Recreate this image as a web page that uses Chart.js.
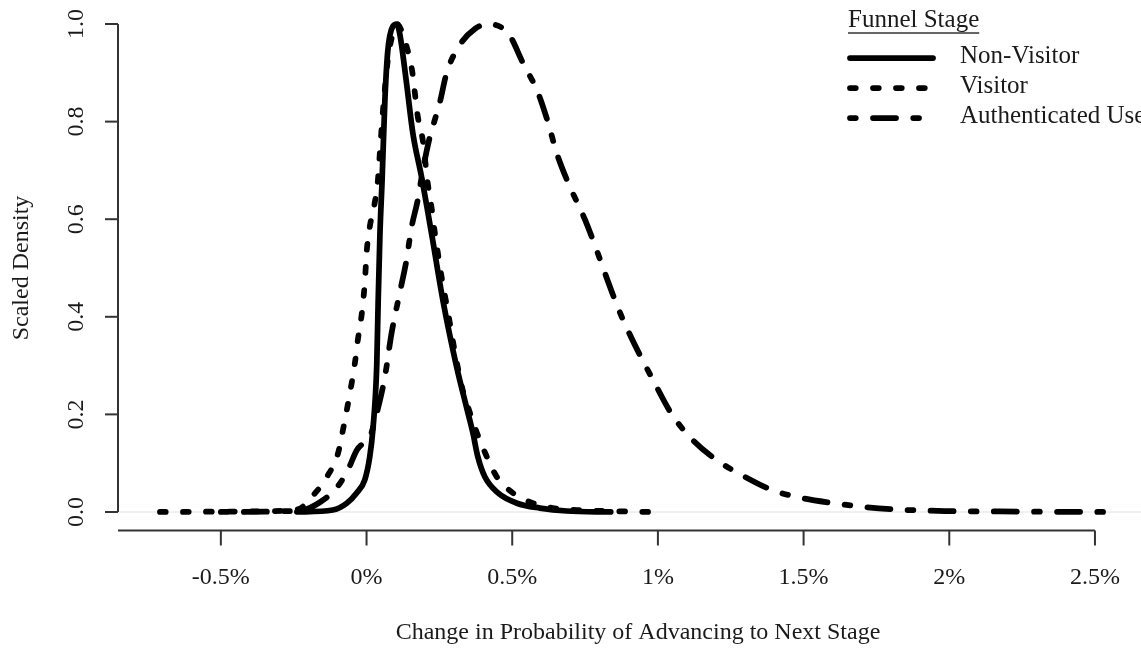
<!DOCTYPE html>
<html>
<head>
<meta charset="utf-8">
<script src="https://cdn.jsdelivr.net/npm/chart.js@4/dist/chart.umd.min.js"></script>
<style>
  html, body { margin: 0; padding: 0; background: #fff; }
  #wrap { width: 1141px; height: 648px; }
</style>
</head>
<body>
<div id="wrap"><canvas id="dens" width="1141" height="648"></canvas></div>
<script>
// scaled density curves, x in percentage points
var nonVisitorX = [-0.239, -0.116, -0.068, -0.034, -0.006, 0.011, 0.022, 0.035, 0.040, 0.046, 0.053, 0.063, 0.073, 0.090, 0.104,
  0.114, 0.137, 0.159, 0.189, 0.223, 0.262, 0.309, 0.343, 0.365, 0.382, 0.406, 0.451, 0.516, 0.595, 0.687, 0.838];
var nonVisitorY = [0.0, 0.004, 0.018, 0.039, 0.066, 0.113, 0.17, 0.30, 0.434, 0.57, 0.674, 0.844, 0.945, 0.995, 1.0,
  0.98, 0.88, 0.776, 0.686, 0.571, 0.434, 0.298, 0.215, 0.162, 0.113, 0.072, 0.039, 0.018, 0.008, 0.002, 0.0];

var visitorX = [-0.709, -0.40, -0.239, -0.176, -0.136, -0.098, -0.081, -0.057, -0.040, -0.030, -0.016, -0.006, 0.001, 0.011, 0.028,
  0.039, 0.045, 0.056, 0.063, 0.073, 0.087, 0.104, 0.121, 0.138, 0.156, 0.176, 0.193, 0.210, 0.224, 0.234, 0.245, 0.258,
  0.272, 0.286, 0.300, 0.313, 0.330, 0.355, 0.379, 0.413, 0.447, 0.502, 0.571, 0.639, 0.722, 0.972];
var visitorY = [0.0, 0.001, 0.005, 0.039, 0.072, 0.12, 0.168, 0.244, 0.305, 0.352, 0.408, 0.47, 0.537, 0.584, 0.633,
  0.68, 0.73, 0.82, 0.868, 0.926, 0.973, 1.0, 0.985, 0.953, 0.906, 0.81, 0.762, 0.674, 0.62, 0.574, 0.53, 0.48,
  0.434, 0.387, 0.338, 0.297, 0.25, 0.203, 0.162, 0.113, 0.072, 0.039, 0.018, 0.008, 0.004, 0.0];

var authUserX = [-0.50, -0.228, -0.160, -0.102, -0.064, -0.033, -0.013, 0.011, 0.034, 0.063, 0.086, 0.114, 0.137, 0.154, 0.176,
  0.193, 0.217, 0.234, 0.251, 0.275, 0.320, 0.372, 0.416, 0.457, 0.488, 0.537, 0.588, 0.622, 0.653, 0.691, 0.749, 0.876,
  0.996, 1.048, 1.120, 1.203, 1.299, 1.392, 1.498, 1.604, 1.710, 1.820, 1.985, 2.173, 2.585];
var authUserY = [0.0, 0.003, 0.02, 0.05, 0.086, 0.127, 0.14, 0.153, 0.2, 0.277, 0.367, 0.449, 0.516, 0.582, 0.64,
  0.70, 0.768, 0.803, 0.838, 0.90, 0.957, 0.99, 1.0, 0.995, 0.98, 0.92, 0.86, 0.80, 0.735, 0.676, 0.6, 0.4,
  0.256, 0.2, 0.147, 0.106, 0.072, 0.045, 0.028, 0.018, 0.01, 0.005, 0.002, 0.001, 0.0];

var stageLabels = ['Non-Visitor', 'Visitor', 'Authenticated User'];
var xTicks = [-0.5, 0, 0.5, 1, 1.5, 2, 2.5];
var yTicks = [0, 0.2, 0.4, 0.6, 0.8, 1.0];

var SERIF = '"Liberation Serif", "Times New Roman", serif';
var LW = 5.75;
var dashes = [[], [LW, LW * 3], [LW, LW * 3, LW * 4, LW * 3]];

function pts(xs, ys) {
  var out = [];
  for (var i = 0; i < xs.length; i++) out.push({x: xs[i], y: ys[i]});
  return out;
}

function series(label, xs, ys, dash) {
  return {
    label: label,
    data: pts(xs, ys),
    borderColor: '#000',
    borderWidth: LW,
    borderDash: dash,
    borderCapStyle: 'round',
    borderJoinStyle: 'round',
    pointRadius: 0,
    fill: false,
    cubicInterpolationMode: 'monotone'
  };
}

// R style axes, titles and legend drawn straight on the canvas
var baseAxes = {
  id: 'baseAxes',
  beforeDatasetsDraw: function(chart) {
    var c = chart.ctx, a = chart.chartArea, y0 = chart.scales.y.getPixelForValue(0);
    c.save();
    c.strokeStyle = '#ebebeb'; c.lineWidth = 1.5;
    c.beginPath(); c.moveTo(a.left, y0); c.lineTo(a.right, y0); c.stroke();
    c.restore();
  },
  afterDraw: function(chart) {
    var c = chart.ctx, a = chart.chartArea, sx = chart.scales.x, sy = chart.scales.y;
    c.save();
    c.strokeStyle = '#333'; c.fillStyle = '#1a1a1a'; c.lineWidth = 2;
    c.font = '24px ' + SERIF;

    // x axis
    var ax = a.bottom - 1;
    c.beginPath(); c.moveTo(a.left, ax); c.lineTo(sx.getPixelForValue(xTicks[xTicks.length - 1]), ax); c.stroke();
    c.textAlign = 'center'; c.textBaseline = 'middle';
    xTicks.forEach(function(v) {
      var px = sx.getPixelForValue(v);
      c.beginPath(); c.moveTo(px, ax); c.lineTo(px, ax + 15); c.stroke();
      c.fillText(v + '%', px, ax + 47);
    });
    c.fillText('Change in Probability of Advancing to Next Stage', 638, 633);

    // y axis
    c.beginPath(); c.moveTo(a.left, sy.getPixelForValue(1)); c.lineTo(a.left, sy.getPixelForValue(0)); c.stroke();
    yTicks.forEach(function(v) {
      var py = sy.getPixelForValue(v);
      c.beginPath(); c.moveTo(a.left, py); c.lineTo(a.left - 13, py); c.stroke();
      c.save(); c.translate(77, py); c.rotate(-Math.PI / 2);
      c.fillText(v.toFixed(1), 0, 0);
      c.restore();
    });
    c.save(); c.translate(22, (a.top + a.bottom) / 2); c.rotate(-Math.PI / 2);
    c.fillText('Scaled Density', 0, 0);
    c.restore();

    // legend
    c.font = '25px ' + SERIF;
    c.textAlign = 'left';
    c.fillText('Funnel Stage', 848, 20);
    var tw = c.measureText('Funnel Stage').width;
    c.lineWidth = 1.5;
    c.beginPath(); c.moveTo(848, 33); c.lineTo(848 + tw, 33); c.stroke();
    stageLabels.forEach(function(lab, i) {
      var ly = 58 + i * 30;
      c.save();
      c.strokeStyle = '#000'; c.lineWidth = LW; c.lineCap = 'round';
      c.setLineDash(dashes[i]);
      c.beginPath(); c.moveTo(850, ly); c.lineTo(933, ly); c.stroke();
      c.restore();
      c.fillText(lab, 960, ly - 2);
    });
    c.restore();
  }
};

new Chart(document.getElementById('dens'), {
  type: 'line',
  data: {
    datasets: [
      series(stageLabels[0], nonVisitorX, nonVisitorY, dashes[0]),
      series(stageLabels[1], visitorX, visitorY, dashes[1]),
      series(stageLabels[2], authUserX, authUserY, dashes[2])
    ]
  },
  options: {
    responsive: false,
    animation: false,
    layout: { padding: { left: 118, right: 0, top: 4.5, bottom: 116.5 } },
    scales: {
      x: { type: 'linear', min: -0.853, max: 2.658, display: false },
      y: { type: 'linear', min: -0.04, max: 1.04, display: false }
    },
    plugins: { legend: { display: false }, tooltip: { enabled: false } }
  },
  plugins: [baseAxes]
});
</script>
</body>
</html>
